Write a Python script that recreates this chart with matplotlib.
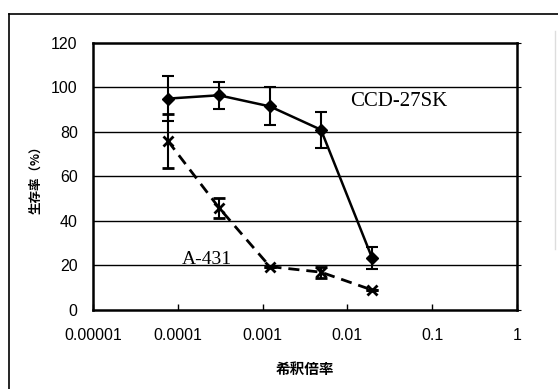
import matplotlib.pyplot as plt
from matplotlib.lines import Line2D

plt.rcParams['font.family'] = ['Liberation Sans', 'Noto Sans CJK JP']

# dilution factors (4-fold series)
dilution = [0.0000763, 0.000305, 0.00122, 0.00488, 0.0195]

# survival (%) and error
ccd_vals = [95, 96.5, 91.5, 81, 23.5]
ccd_err = [10, 6, 8.5, 8, 5]
a431_vals = [76, 46, 19.5, 17, 9]
a431_err = [12, 4.5, 0, 2.5, 0]

yticks = [0, 20, 40, 60, 80, 100, 120]
xticks = [0.00001, 0.0001, 0.001, 0.01, 0.1, 1]
xticklabels = ['0.00001', '0.0001', '0.001', '0.01', '0.1', '1']

fig = plt.figure(figsize=(5.58, 3.89), dpi=100)
ax = fig.add_axes([0.1667, 0.2031, 0.7598, 0.6864])

ax.set_xscale('log')
ax.set_xlim(0.00001, 1)
ax.set_ylim(0, 120)

for y in yticks[1:-1]:
    ax.axhline(y, color='black', lw=1, zorder=1)

ax.errorbar(dilution, ccd_vals, yerr=ccd_err, color='black', lw=1.8,
            marker='D', ms=6, capsize=4, elinewidth=1.5, capthick=1.5, zorder=3)
ax.errorbar(dilution, a431_vals, yerr=a431_err, color='black', lw=2,
            ls=(0, (4, 2.5)), marker='x', ms=7, mew=2, capsize=4,
            elinewidth=1.5, capthick=1.5, zorder=3)

ax.text(0.0405, 93.5, 'CCD-27SK', family='Liberation Serif', fontsize=15,
        ha='center', va='center')
ax.text(0.00022, 20.5, 'A-431', family='Liberation Serif', fontsize=14,
        ha='center', va='baseline')

ax.set_xticks(xticks)
ax.set_xticklabels(xticklabels)
ax.minorticks_off()
ax.set_yticks(yticks)
ax.tick_params(axis='x', direction='in', length=4, width=1, labelsize=11.5, pad=13)
ax.tick_params(axis='y', left=False, right=True, direction='out', length=3,
               labelsize=11.5, pad=8)
for s in ax.spines.values():
    s.set_linewidth(1.8)

ax.set_ylabel('生存率（%）', family=['Noto Sans CJK JP'], fontweight='bold',
              fontsize=9, labelpad=6)
ax.set_xlabel('希釈倍率', family=['Noto Sans CJK JP'], fontweight='bold',
              fontsize=10.5, labelpad=13)

# outer frame of the scanned figure
fig.add_artist(Line2D([0.016, 0.016], [0.0, 0.964], color='black', lw=1.2,
                      transform=fig.transFigure))
fig.add_artist(Line2D([0.016, 1.0], [0.964, 0.964], color='black', lw=1.2,
                      transform=fig.transFigure))
fig.add_artist(Line2D([0.995, 0.995], [0.36, 0.92], color='#dddddd', lw=1,
                      transform=fig.transFigure))

fig.savefig('out.png', dpi=100)
